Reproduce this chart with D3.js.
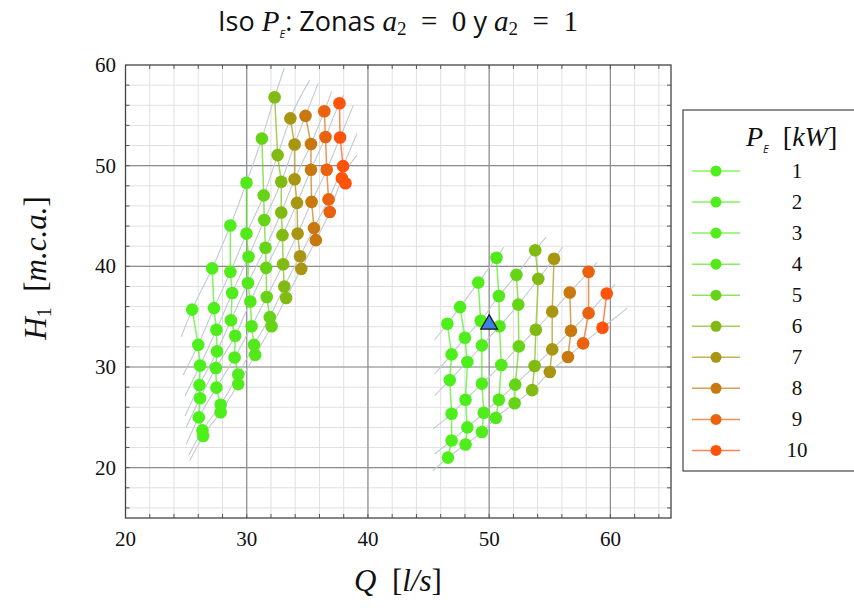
<!DOCTYPE html>
<html>
<head>
<meta charset="utf-8">
<script src="https://cdn.jsdelivr.net/npm/d3@7"></script>
<style>
  body { margin: 0; background: #fff; }
  svg { display: block; }
</style>
</head>
<body>
<svg id="chart" width="854" height="608"></svg>
<script>
// valores de P_E y colores de cada serie
const peValues = [1, 2, 3, 4, 5, 6, 7, 8, 9, 10];
const peColors = ["#4ef01c", "#4eee1c", "#50ec1c", "#52e81a", "#66d416",
                  "#80ba12", "#a89612", "#c8780e", "#ea620e", "#ff520a"];

// zona a2 = 0: puntos [Q, H1] de cada serie, de arriba hacia abajo
const zonaA = [
  [[25.5,35.7],[26.0,32.2],[26.15,30.15],[26.1,28.2],[26.15,26.9],[26.05,25.0],[26.35,23.7],[26.4,23.15]],
  [[27.15,39.8],[27.3,35.85],[27.5,33.7],[27.55,31.55],[27.45,29.9],[27.5,27.95],[27.85,26.25],[27.85,25.5]],
  [[28.65,44.05],[28.65,39.45],[28.8,37.35],[28.7,34.65],[29.05,33.1],[29.0,30.95],[29.3,29.25],[29.3,28.3]],
  [[29.98,48.3],[29.98,43.25],[30.15,40.95],[30.1,38.35],[30.3,36.5],[30.4,34.05],[30.6,32.2],[30.7,31.2]],
  [[31.25,52.7],[31.4,47.05],[31.45,44.6],[31.55,41.85],[31.6,39.85],[31.65,36.95],[31.9,34.95],[32.05,34.05]],
  [[32.3,56.8],[32.55,51.05],[32.85,48.4],[32.85,45.35],[32.95,43.1],[33.0,40.2],[33.1,38.0],[33.25,36.85]],
  [[33.6,54.7],[33.95,52.1],[33.95,48.65],[34.15,46.3],[34.2,43.25],[34.4,41.0],[34.5,39.75]],
  [[34.85,54.95],[35.3,52.15],[35.3,49.6],[35.35,46.4],[35.55,43.8],[35.7,42.6]],
  [[36.4,55.4],[36.5,52.85],[36.6,49.6],[36.75,46.65],[36.85,45.4]],
  [[37.65,56.2],[37.7,52.8],[37.95,49.95],[37.85,48.75],[38.15,48.25]]
];
// índice de la curva iso en la que cae el primer punto de cada serie
const zonaA_first = [0, 0, 0, 0, 0, 0, 1, 2, 3, 4];
const zonaA_isoStart = [[24.6,33.0],[24.75,29.2],[24.9,27.1],[24.9,25.1],[25.0,24.0],[25.0,22.3],[25.2,21.2],[25.3,20.7]];
const zonaA_isoEnd = [[33.1,59.7],[35.2,58.5],[35.9,58.2],[37.0,57.35],[38.0,57.0],[38.8,56.0],[39.1,53.2],[39.1,51.05]];

// zona a2 = 1
const zonaB = [
  [[46.55,34.3],[46.9,31.25],[46.75,28.7],[46.9,25.35],[46.9,22.7],[46.6,21.0]],
  [[47.6,35.95],[48.0,32.9],[48.2,30.5],[48.05,26.75],[48.2,24.0],[48.05,22.3]],
  [[49.1,38.4],[49.3,34.6],[49.4,32.15],[49.4,28.35],[49.55,25.45],[49.4,23.55]],
  [[50.6,40.85],[50.8,37.05],[50.85,34.05],[51.0,30.2],[50.8,26.75],[50.55,24.95]],
  [[52.25,39.15],[52.4,36.2],[52.45,32.05],[52.15,28.25],[52.1,26.4]],
  [[53.8,41.6],[54.05,38.75],[53.85,33.7],[53.75,30.1],[53.55,27.7]],
  [[55.35,40.75],[55.2,35.5],[55.2,31.75],[55.0,29.5]],
  [[56.65,37.4],[56.75,33.6],[56.5,31.0]],
  [[58.2,39.45],[58.2,35.35],[57.75,32.35]],
  [[59.7,37.3],[59.35,33.9]]
];
const zonaB_first = [0, 0, 0, 0, 1, 1, 2, 3, 3, 4];
const zonaB_isoStart = [[45.5,32.7],[45.5,29.3],[45.5,27.15],[45.35,23.85],[45.5,21.35],[45.35,19.7]];
const zonaB_isoEnd = [[51.2,41.9],[54.7,42.9],[56.05,41.9],[58.9,40.4],[60.4,38.2],[61.4,35.85]];

// punto de operación
const opPoint = [50.0, 34.15];

const xTicks = [20, 30, 40, 50, 60];
const yTicks = [20, 30, 40, 50, 60];

const svg = d3.select("#chart");
const x = d3.scaleLinear().domain([20, 65]).range([125.5, 671]);
const y = d3.scaleLinear().domain([15, 60]).range([518, 65]);
const serif = "'Liberation Serif', 'DejaVu Serif', serif";
const sans = "'Open Sans', sans-serif";
const sp = "\u2002"; // espacio fijo

// rejilla menor y mayor
const minorX = d3.range(22, 65, 2);
const minorY = d3.range(16, 60, 2);
const grid = svg.append("g");
grid.selectAll(".mx").data(minorX).join("line")
  .attr("x1", d => x(d)).attr("x2", d => x(d)).attr("y1", y(15)).attr("y2", y(60))
  .attr("stroke", "#e0e0e0").attr("stroke-width", 1);
grid.selectAll(".my").data(minorY).join("line")
  .attr("x1", x(20)).attr("x2", x(65)).attr("y1", d => y(d)).attr("y2", d => y(d))
  .attr("stroke", "#e0e0e0").attr("stroke-width", 1);
grid.selectAll(".Mx").data(xTicks.slice(1)).join("line")
  .attr("x1", d => x(d)).attr("x2", d => x(d)).attr("y1", y(15)).attr("y2", y(60))
  .attr("stroke", "#8c8c8c").attr("stroke-width", 1.2);
grid.selectAll(".My").data(yTicks.slice(0, -1)).join("line")
  .attr("x1", x(20)).attr("x2", x(65)).attr("y1", d => y(d)).attr("y2", d => y(d))
  .attr("stroke", "#8c8c8c").attr("stroke-width", 1.2);

// ticks pequeños hacia adentro
const tk = svg.append("g").attr("stroke", "#555").attr("stroke-width", 1);
minorX.forEach(v => {
  tk.append("line").attr("x1", x(v)).attr("x2", x(v)).attr("y1", y(15)).attr("y2", y(15) - 4);
  tk.append("line").attr("x1", x(v)).attr("x2", x(v)).attr("y1", y(60)).attr("y2", y(60) + 4);
});
minorY.forEach(v => {
  tk.append("line").attr("x1", x(20)).attr("x2", x(20) + 4).attr("y1", y(v)).attr("y2", y(v));
  tk.append("line").attr("x1", x(65)).attr("x2", x(65) - 4).attr("y1", y(v)).attr("y2", y(v));
});

// curvas iso (grises)
function isoLines(zona, first, starts, ends) {
  return starts.map((s, r) => {
    const pts = [s];
    zona.forEach((serie, i) => {
      const k = r - first[i];
      if (k >= 0 && k < serie.length) pts.push(serie[k]);
    });
    pts.push(ends[r]);
    return pts;
  });
}
const line = d3.line().x(d => x(d[0])).y(d => y(d[1]));
const curve = d3.line().x(d => x(d[0])).y(d => y(d[1])).curve(d3.curveMonotoneX);
const isos = isoLines(zonaA, zonaA_first, zonaA_isoStart, zonaA_isoEnd)
  .concat(isoLines(zonaB, zonaB_first, zonaB_isoStart, zonaB_isoEnd));
svg.append("g").selectAll("path").data(isos).join("path")
  .attr("d", curve)
  .attr("fill", "none").attr("stroke", "#c2cbd2").attr("stroke-width", 1.1);

// series
[zonaA, zonaB].forEach(zona => {
  const g = svg.append("g");
  zona.forEach((serie, i) => {
    g.append("path").datum(serie)
      .attr("d", line)
      .attr("fill", "none").attr("stroke", peColors[i])
      .attr("stroke-opacity", 0.7).attr("stroke-width", 1.5);
  });
  zona.forEach((serie, i) => {
    g.selectAll(null).data(serie).join("circle")
      .attr("cx", d => x(d[0])).attr("cy", d => y(d[1])).attr("r", 6.3)
      .attr("fill", peColors[i]);
  });
});

// triángulo
svg.append("path")
  .attr("d", d3.symbol().type(d3.symbolTriangle).size(120))
  .attr("transform", `translate(${x(opPoint[0])},${y(opPoint[1]) - 1})`)
  .attr("fill", "#3b82e0").attr("stroke", "#111").attr("stroke-width", 1.2);

// marco
svg.append("rect")
  .attr("x", x(20)).attr("y", y(60)).attr("width", x(65) - x(20)).attr("height", y(15) - y(60))
  .attr("fill", "none").attr("stroke", "#444").attr("stroke-width", 1.3);

// etiquetas de ticks
svg.append("g").selectAll("text").data(xTicks).join("text")
  .attr("x", d => x(d)).attr("y", 546)
  .attr("text-anchor", "middle")
  .attr("font-family", serif).attr("font-size", 21).attr("fill", "#111")
  .text(d => d);
svg.append("g").selectAll("text").data(yTicks).join("text")
  .attr("x", 116).attr("y", d => y(d) + 7)
  .attr("text-anchor", "end")
  .attr("font-family", serif).attr("font-size", 21).attr("fill", "#111")
  .text(d => d);

// título
const title = svg.append("text")
  .attr("x", 398).attr("y", 31).attr("text-anchor", "middle")
  .attr("font-family", sans).attr("font-size", 27).attr("fill", "#111");
title.append("tspan").text("Iso ");
title.append("tspan").attr("font-family", serif).attr("font-style", "italic").attr("font-size", 29).text("P");
title.append("tspan").attr("font-style", "italic")
  .attr("font-size", 11).attr("dy", 7).text("E");
title.append("tspan").attr("dy", -7).text(": Zonas ");
title.append("tspan").attr("font-family", serif).attr("font-style", "italic").attr("font-size", 29).text("a");
title.append("tspan").attr("font-family", serif).attr("font-size", 19).attr("dy", 4).text("2");
title.append("tspan").attr("font-family", serif).attr("font-size", 29).attr("dy", -4).text(sp + "=" + sp + "0 ");
title.append("tspan").text("y ");
title.append("tspan").attr("font-family", serif).attr("font-style", "italic").attr("font-size", 29).text("a");
title.append("tspan").attr("font-family", serif).attr("font-size", 19).attr("dy", 4).text("2");
title.append("tspan").attr("font-family", serif).attr("font-size", 29).attr("dy", -4).text(sp + "=" + sp + "1");

// títulos de ejes
const xt = svg.append("text").attr("x", 398).attr("y", 591).attr("text-anchor", "middle")
  .attr("font-family", serif).attr("font-size", 31).attr("fill", "#111");
xt.append("tspan").attr("font-style", "italic").text("Q");
xt.append("tspan").text(sp + "[");
xt.append("tspan").attr("font-style", "italic").text("l/s");
xt.append("tspan").text("]");

const yt = svg.append("text").attr("transform", "translate(46,268) rotate(-90)")
  .attr("text-anchor", "middle")
  .attr("font-family", serif).attr("font-size", 31).attr("fill", "#111");
yt.append("tspan").attr("font-style", "italic").text("H");
yt.append("tspan").attr("font-size", 20).attr("dy", 5).text("1");
yt.append("tspan").attr("dy", -5).text(sp + "[");
yt.append("tspan").attr("font-style", "italic").text("m.c.a.");
yt.append("tspan").text("]");

// leyenda
const leg = svg.append("g");
leg.append("rect").attr("x", 683).attr("y", 110).attr("width", 190).attr("height", 361)
  .attr("fill", "#fff").attr("stroke", "#444").attr("stroke-width", 1.2);
const lt = leg.append("text").attr("x", 746).attr("y", 146)
  .attr("font-family", serif).attr("font-size", 28).attr("fill", "#111");
lt.append("tspan").attr("font-style", "italic").text("P");
lt.append("tspan").attr("font-style", "italic").attr("font-family", sans)
  .attr("font-size", 11).attr("dy", 7).text("E");
lt.append("tspan").attr("dy", -7).text(sp + "[");
lt.append("tspan").attr("font-style", "italic").text("kW");
lt.append("tspan").text("]");
const items = leg.selectAll(".item").data(peValues).join("g")
  .attr("transform", (d, i) => `translate(0,${171 + i * 31.05})`);
items.append("line").attr("x1", 692).attr("x2", 740)
  .attr("stroke", (d, i) => peColors[i]).attr("stroke-opacity", 0.7).attr("stroke-width", 1.5);
items.append("circle").attr("cx", 716).attr("r", 5.5).attr("fill", (d, i) => peColors[i]);
items.append("text").attr("x", 797).attr("y", 7).attr("text-anchor", "middle")
  .attr("font-family", serif).attr("font-size", 21).attr("fill", "#111")
  .text(d => d);
</script>
</body>
</html>
